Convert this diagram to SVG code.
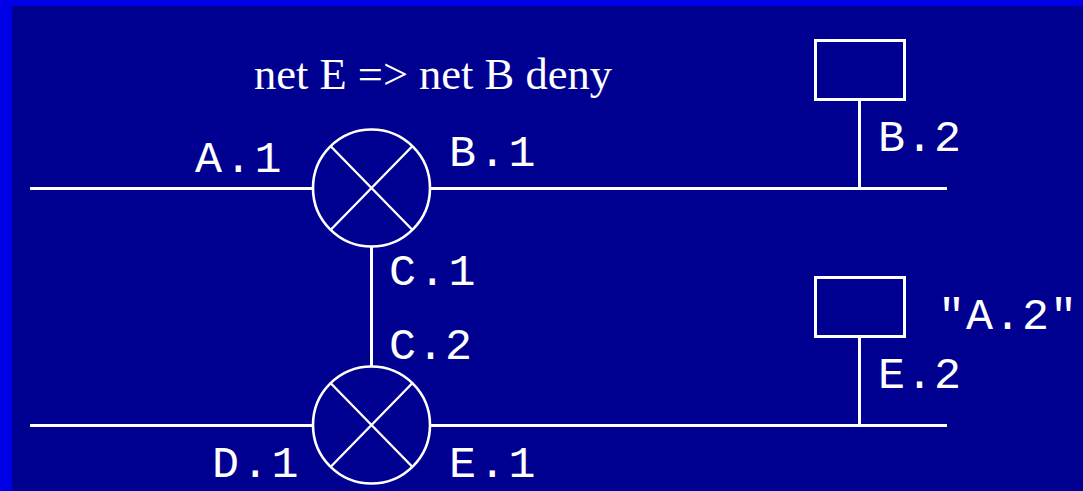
<svg xmlns="http://www.w3.org/2000/svg" width="1083" height="491" viewBox="0 0 1083 491">
<style>
.l{stroke:#fff;stroke-width:3;fill:none;shape-rendering:crispEdges}
.c{stroke:#fff;stroke-width:2.600;fill:none}
.d{stroke:#fff;stroke-width:2.400;fill:none}
.t{fill:#fff;font-family:"Liberation Mono","DejaVu Sans Mono",monospace;font-size:45px;letter-spacing:2.800px}
.n{letter-spacing:1px}
.s{fill:#fff;font-family:"Liberation Serif",serif;font-size:44.500px}
</style>
<rect width="1083" height="491" fill="#0000e6"/>
<rect x="12" y="6" width="1071" height="485" fill="#000090"/>
<g id="connectors">
<path class="l" d="M30 188.500H313M430 188.500H947M859.500 188.500V100M371.500 246V367M30 425.500H313M430 425.500H947M859.500 425.500V337"/>
</g>
<g id="router-1"><circle class="c" cx="371.500" cy="188" r="58.500"/><path class="d" d="M330.500 146L412.500 230M412.500 146L330.500 230"/></g>
<g id="router-2"><circle class="c" cx="371.500" cy="425" r="58.500"/><path class="d" d="M330.500 383L412.500 467M412.500 383L330.500 467"/></g>
<g id="host-b"><rect class="l" x="815.500" y="40.500" width="89" height="59"/></g>
<g id="host-e"><rect class="l" x="815.500" y="277.500" width="89" height="59"/></g>
<text class="s" x="254" y="89">net E =&gt; net B deny</text>
<text class="t" x="195" y="172">A.1</text>
<text class="t" x="449" y="166">B.1</text>
<text class="t n" x="878" y="151">B.2</text>
<text class="t" x="389" y="285">C.1</text>
<text class="t n" x="389" y="359">C.2</text>
<text class="t n" x="938" y="329">"A.2"</text>
<text class="t n" x="878" y="388">E.2</text>
<text class="t" x="212" y="477">D.1</text>
<text class="t" x="449" y="477">E.1</text>
</svg>
